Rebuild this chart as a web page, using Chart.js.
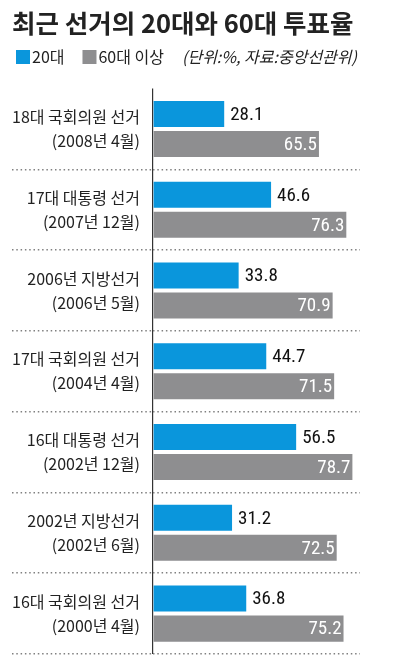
<!DOCTYPE html>
<html>
<head>
<meta charset="utf-8">
<script src="https://cdn.jsdelivr.net/npm/chart.js@4"></script>
<style>
html,body{margin:0;padding:0;background:#fff;}
#wrap{width:397px;height:669px;position:relative;}
</style>
</head>
<body>
<div id="wrap"><canvas id="c"></canvas></div>
<script>
const categories = [
  ['18대 국회의원 선거', '(2008년 4월)'],
  ['17대 대통령 선거', '(2007년 12월)'],
  ['2006년 지방선거', '(2006년 5월)'],
  ['17대 국회의원 선거', '(2004년 4월)'],
  ['16대 대통령 선거', '(2002년 12월)'],
  ['2002년 지방선거', '(2002년 6월)'],
  ['16대 국회의원 선거', '(2000년 4월)']
];
const seriesNames = ['20대', '60대 이상'];
const turnout20s = [28.1, 46.6, 33.8, 44.7, 56.5, 31.2, 36.8];
const turnout60s = [65.5, 76.3, 70.9, 71.5, 78.7, 72.5, 75.2];
const titleText = '최근 선거의 20대와 60대 투표율';
const noteText = '(단위:%, 자료:중앙선관위)';

const BLUE = '#0a96dc';
const GRAY = '#8e8e90';
const DOT = '#808080';
const KR = '"Noto Sans CJK KR", sans-serif';
const NUMFONT = '"Liberation Sans Narrow", "Roboto Condensed", Roboto, sans-serif';

const valueLabels = {
  id: 'valueLabels',
  afterDatasetsDraw(chart) {
    const ctx = chart.ctx;
    ctx.save();
    ctx.font = '19px ' + NUMFONT;
    ctx.textBaseline = 'middle';
    chart.data.datasets.forEach((ds, di) => {
      const meta = chart.getDatasetMeta(di);
      meta.data.forEach((el, i) => {
        const txt = ds.data[i].toFixed(1);
        if (di === 0) {
          ctx.fillStyle = '#111';
          ctx.textAlign = 'left';
          ctx.fillText(txt, el.x + 6, el.y + 1);
        } else {
          ctx.fillStyle = '#fff';
          ctx.textAlign = 'right';
          ctx.fillText(txt, el.x - 2, el.y + 1);
        }
      });
    });
    ctx.restore();
  }
};

const legendRow = {
  id: 'legendRow',
  afterDraw(chart) {
    const ctx = chart.ctx;
    const y = 57;
    ctx.save();
    ctx.textBaseline = 'middle';
    ctx.textAlign = 'left';
    let x = 16;
    chart.data.datasets.forEach((ds, di) => {
      ctx.fillStyle = ds.backgroundColor;
      ctx.fillRect(x, y - 7, 14, 14);
      x += 16;
      ctx.font = '16px ' + KR;
      ctx.fillStyle = '#222';
      ctx.fillText(ds.label, x, y);
      x += ctx.measureText(ds.label).width + 18;
    });
    x = 182;
    ctx.font = 'italic 16px ' + KR;
    ctx.fillStyle = '#222';
    ctx.fillText(noteText, x, y);
    ctx.restore();
  }
};

new Chart(document.getElementById('c'), {
  type: 'bar',
  data: {
    labels: categories,
    datasets: [
      { label: seriesNames[0], data: turnout20s, backgroundColor: BLUE },
      { label: seriesNames[1], data: turnout60s, backgroundColor: GRAY }
    ]
  },
  options: {
    indexAxis: 'y',
    responsive: true,
    maintainAspectRatio: false,
    animation: false,
    categoryPercentage: 0.743,
    barPercentage: 0.867,
    layout: { padding: { left: 12, right: 37, top: 0, bottom: 15 } },
    plugins: {
      legend: { display: false },
      tooltip: { enabled: false },
      title: {
        display: true,
        text: titleText,
        align: 'start',
        color: '#222',
        font: { family: KR, size: 25.5, weight: 'bold', lineHeight: 1.2 },
        padding: { top: 8, bottom: 50 }
      }
    },
    scales: {
      x: {
        min: 0,
        max: 81.7,
        ticks: { display: false },
        border: { display: false },
        grid: {
          drawTicks: false,
          color: c => (c.tick && c.tick.value === 0) ? '#333' : 'rgba(0,0,0,0)',
          lineWidth: 1.2
        }
      },
      y: {
        ticks: {
          color: '#222',
          padding: -128,
          font: { family: KR, size: 16, lineHeight: 1.5 }
        },
        border: { display: false, dash: [1.5, 2.8] },
        grid: {
          offset: true,
          tickLength: 141,
          tickBorderDash: [1.5, 2.8],
          color: c => (c.index === 0 || c.index === categories.length) ? 'rgba(0,0,0,0)' : DOT,
          tickColor: c => (c.index === 0 || c.index === categories.length) ? 'rgba(0,0,0,0)' : DOT,
          lineWidth: 1.5,
          tickWidth: 1.5
        },
        afterFit(scale) { scale.width = 141; }
      }
    }
  },
  plugins: [valueLabels, legendRow]
});
</script>
</body>
</html>
